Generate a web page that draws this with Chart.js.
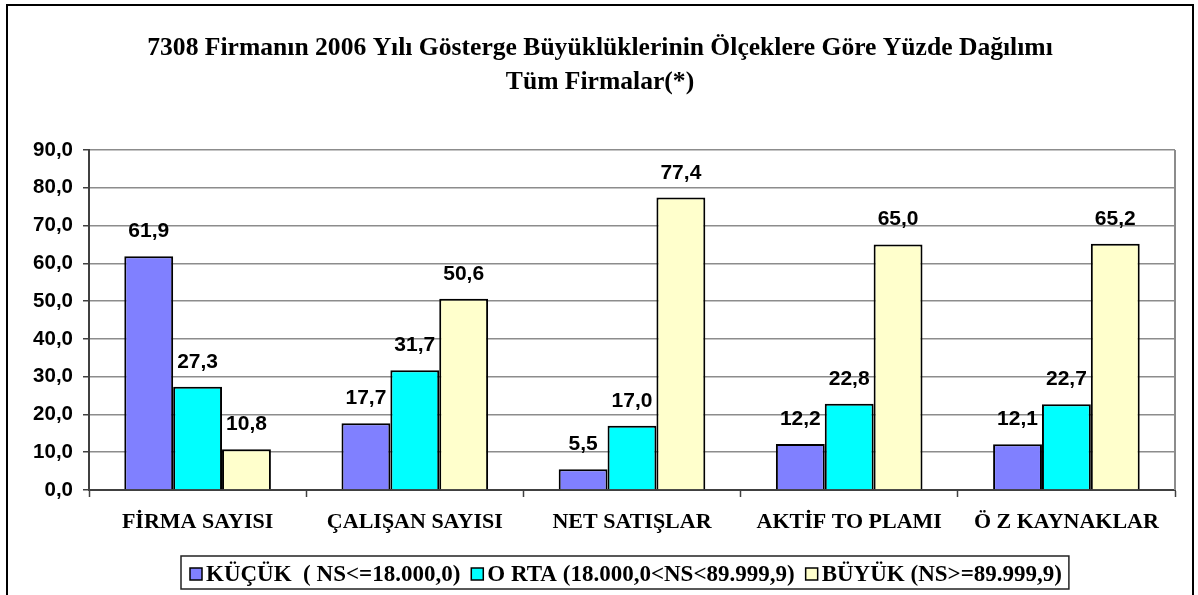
<!DOCTYPE html>
<html><head><meta charset="utf-8">
<script src="https://cdn.jsdelivr.net/npm/chart.js@4"></script>
<style>html,body{margin:0;padding:0;background:#fff;overflow:hidden}</style>
</head><body>
<canvas id="c" width="1198" height="595"></canvas>
<script>
const titleLines = ["7308 Firmanın 2006 Yılı Gösterge Büyüklüklerinin Ölçeklere Göre Yüzde Dağılımı", "Tüm Firmalar(*)"];
const categories = ["FİRMA SAYISI", "ÇALIŞAN SAYISI", "NET SATIŞLAR", "AKTİF TO PLAMI", "Ö Z KAYNAKLAR"];
const seriesNames = ["KÜÇÜK  ( NS<=18.000,0)", "O RTA (18.000,0<NS<89.999,9)", "BÜYÜK (NS>=89.999,9)"];
const kucuk = [61.9, 17.7, 5.5, 12.2, 12.1];
const orta = [27.3, 31.7, 17.0, 22.8, 22.7];
const buyuk = [10.8, 50.6, 77.4, 65.0, 65.2];
const yMin = 0, yMax = 90, yStep = 10;

const fmt = v => v.toFixed(1).replace('.', ',');
const SANS = "'Liberation Sans', Arial, sans-serif";
const SERIF = "'Liberation Serif', 'Times New Roman', serif";

const framePlugin = {
  id: 'frame',
  beforeDatasetsDraw(chart) {
    const {ctx, chartArea: a} = chart;
    ctx.save();
    ctx.strokeStyle = '#8c8c8c'; ctx.lineWidth = 2;
    ctx.beginPath(); ctx.moveTo(a.right, a.top); ctx.lineTo(a.right, a.bottom); ctx.stroke();
    ctx.restore();
  },
  afterDraw(chart) {
    const ctx = chart.ctx;
    ctx.save();
    ctx.strokeStyle = '#000'; ctx.lineWidth = 2;
    ctx.beginPath();
    ctx.moveTo(7, 600); ctx.lineTo(7, 5); ctx.lineTo(1193, 5); ctx.lineTo(1193, 600);
    ctx.stroke();
    // title
    ctx.font = "bold 25.6px " + SERIF;
    ctx.fillStyle = '#000'; ctx.textAlign = 'center'; ctx.textBaseline = 'middle';
    titleLines.forEach((t, i) => ctx.fillText(t, 600, 48 + i * 34));
    // data labels
    ctx.font = "bold 21px " + SANS;
    ctx.textBaseline = 'alphabetic';
    chart.data.datasets.forEach((ds, i) => {
      const meta = chart.getDatasetMeta(i);
      meta.data.forEach((el, j) => {
        ctx.fillText(fmt(ds.data[j]), el.x, el.y - 19);
      });
    });
    // legend
    ctx.font = "bold 23px " + SERIF;
    ctx.textAlign = 'left'; ctx.textBaseline = 'middle';
    const cy = 574;
    const startX = 181;
    let x = 190;
    let endX = startX;
    chart.data.datasets.forEach(ds => {
      const w = ctx.measureText(ds.label).width;
      ctx.fillStyle = ds.backgroundColor; ctx.fillRect(x, cy - 6, 12, 12);
      ctx.strokeStyle = '#000'; ctx.lineWidth = 1.5; ctx.strokeRect(x, cy - 6, 12, 12);
      ctx.fillStyle = '#000';
      ctx.fillText(ds.label, x + 16, cy + 1);
      x += 16 + w;
      endX = x + 7;
      x += 11;
    });
    ctx.strokeStyle = '#222'; ctx.lineWidth = 1.5;
    ctx.strokeRect(startX, 556, endX - startX, 33);
    ctx.restore();
  }
};

new Chart(document.getElementById('c'), {
  type: 'bar',
  data: {
    labels: categories,
    datasets: [
      {label: seriesNames[0], data: kucuk, backgroundColor: '#8080FF', borderColor: '#000', borderWidth: 2},
      {label: seriesNames[1], data: orta, backgroundColor: '#00FFFF', borderColor: '#000', borderWidth: 2},
      {label: seriesNames[2], data: buyuk, backgroundColor: '#FFFFCC', borderColor: '#000', borderWidth: 2}
    ]
  },
  options: {
    responsive: false,
    animation: false,
    devicePixelRatio: 1,
    layout: {padding: {left: 0, right: 23, top: 150, bottom: 42}},
    datasets: {bar: {barPercentage: 1, categoryPercentage: 0.675}},
    plugins: {
      legend: {display: false},
      tooltip: {enabled: false},
      title: {display: false}
    },
    scales: {
      x: {
        grid: {display: true, offset: true, drawOnChartArea: false, tickLength: 7, tickColor: '#404040', tickWidth: 1.5},
        border: {display: true, color: '#404040', width: 2},
        ticks: {color: '#000', font: {family: SERIF, size: 22, weight: 'bold'}, padding: 12, maxRotation: 0, autoSkip: false},
        afterFit: s => { s.height = 63; }
      },
      y: {
        min: yMin, max: yMax,
        grid: {color: '#8c8c8c', lineWidth: 1.5, tickLength: 6, tickColor: '#404040'},
        border: {display: true, color: '#404040', width: 2},
        ticks: {stepSize: yStep, color: '#000', font: {family: SANS, size: 20.5, weight: 'bold'}, padding: 10, callback: v => fmt(v)},
        afterFit: s => { s.width = 89; }
      }
    }
  },
  plugins: [framePlugin]
});
</script>
</body></html>
